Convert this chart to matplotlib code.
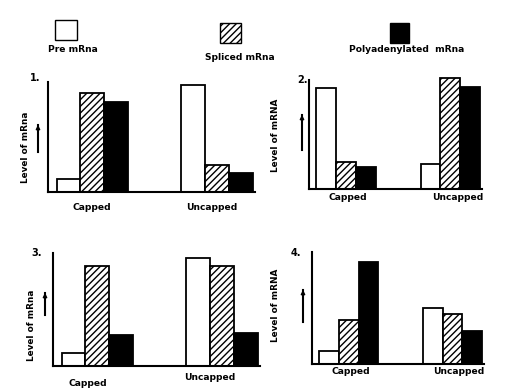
import matplotlib
matplotlib.use("Agg")
import numpy as np
from matplotlib import pyplot as plt
from matplotlib.patches import Rectangle

# data (level of mRNA, arbitrary units, 0-10)
groups = ["Capped", "Uncapped"]
series_names = ["Pre mRna", "Spliced mRna", "Polyadenylated  mRna"]
panel_titles = ["1.", "2.", "3.", "4."]
ylabels = ["Level of mRna", "Level of mRNA", "Level of mRna", "Level of mRNA"]

pre_mrna = [[1.2, 9.7], [9.3, 2.3], [1.15, 9.55], [1.15, 5.0]]
spliced_mrna = [[9.0, 2.5], [2.5, 10.2], [8.85, 8.85], [3.9, 4.45]]
polya_mrna = [[8.2, 1.7], [2.0, 9.4], [2.75, 2.9], [9.1, 2.95]]

W, H = 509, 389
plt.rcParams['font.family'] = ['Liberation Sans Narrow', 'DejaVu Sans']
plt.rcParams['hatch.linewidth'] = 1.0

fig = plt.figure(figsize=(W / 100, H / 100), dpi=100)


def px_rect(left, top, right, bottom):
    return [left / W, (H - bottom) / H, (right - left) / W, (bottom - top) / H]


def fx(x):
    return x / W


def fy(y):
    return (H - y) / H


# axes boxes in pixels: left, top, right, baseline
boxes = [(48, 82, 255, 192), (309, 80, 482, 189), (53, 253, 260, 366), (312, 252, 484, 364)]
styles = [dict(color="white", hatch=None),
          dict(color="white", hatch="/////"),
          dict(color="black", hatch=None)]
width = 0.19
x = np.arange(len(groups))

for i, box in enumerate(boxes):
    ax = fig.add_axes(px_rect(*box))
    values = [pre_mrna[i], spliced_mrna[i], polya_mrna[i]]
    for j, vals in enumerate(values):
        ax.bar(x + (j - 1) * width, vals, width, facecolor=styles[j]["color"],
               edgecolor="black", linewidth=1.3, hatch=styles[j]["hatch"], clip_on=False)
    ax.set_xlim(-0.355, 1.305)
    ax.set_ylim(0, 10)
    ax.set_xticks([])
    ax.set_yticks([])
    for s in ["top", "right"]:
        ax.spines[s].set_visible(False)
    for s in ["left", "bottom"]:
        ax.spines[s].set_linewidth(1.5)

# group labels
label_pos = [[(92, 207), (212, 207)], [(348, 198), (458, 198)],
             [(88, 383), (210, 377)], [(351, 371), (459, 371)]]
for i, pos in enumerate(label_pos):
    for g, (px, py) in zip(groups, pos):
        fig.text(fx(px), fy(py), g, ha="center", va="center", fontsize=6.6, fontweight="bold")

# panel numbers
num_pos = [(35, 78), (303, 80), (37, 253), (296, 253)]
for t, (px, py) in zip(panel_titles, num_pos):
    fig.text(fx(px), fy(py), t, ha="center", va="center", fontsize=7, fontweight="bold")

# y labels and arrows
ylab_pos = [(26, 147), (275, 135), (32, 325), (275, 305)]
arrows = [(38, 152, 125), (302, 150, 115), (45, 315, 293), (303, 322, 290)]
for t, (px, py) in zip(ylabels, ylab_pos):
    fig.text(fx(px), fy(py), t, ha="center", va="center", rotation=90, fontsize=6.4, fontweight="bold")
for (px, y0, y1) in arrows:
    fig.add_artist(plt.Line2D([fx(px), fx(px)], [fy(y0), fy(y1)], color="black", lw=1.5))
    plt.annotate("", xy=(fx(px), fy(y1 - 3)), xytext=(fx(px), fy(y1 + 5)), xycoords="figure fraction",
                 arrowprops=dict(arrowstyle="-|>", color="black", lw=1.0, mutation_scale=6))

# legend boxes
leg_boxes = [(55, 20, 77, 40), (220, 23, 241, 43), (390, 23, 409, 43)]
leg_text = [(73, 50), (240, 57), (407, 50)]
for j, (l, t, r, b) in enumerate(leg_boxes):
    fig.add_artist(Rectangle((fx(l), fy(b)), fx(r) - fx(l), fy(t) - fy(b), transform=fig.transFigure,
                             facecolor=styles[j]["color"], edgecolor="black", linewidth=1.0,
                             hatch=styles[j]["hatch"]))
for name, (px, py) in zip(series_names, leg_text):
    fig.text(fx(px), fy(py), name, ha="center", va="center", fontsize=6.6, fontweight="bold")

plt.savefig("out.png", dpi=100)
plt.close()
